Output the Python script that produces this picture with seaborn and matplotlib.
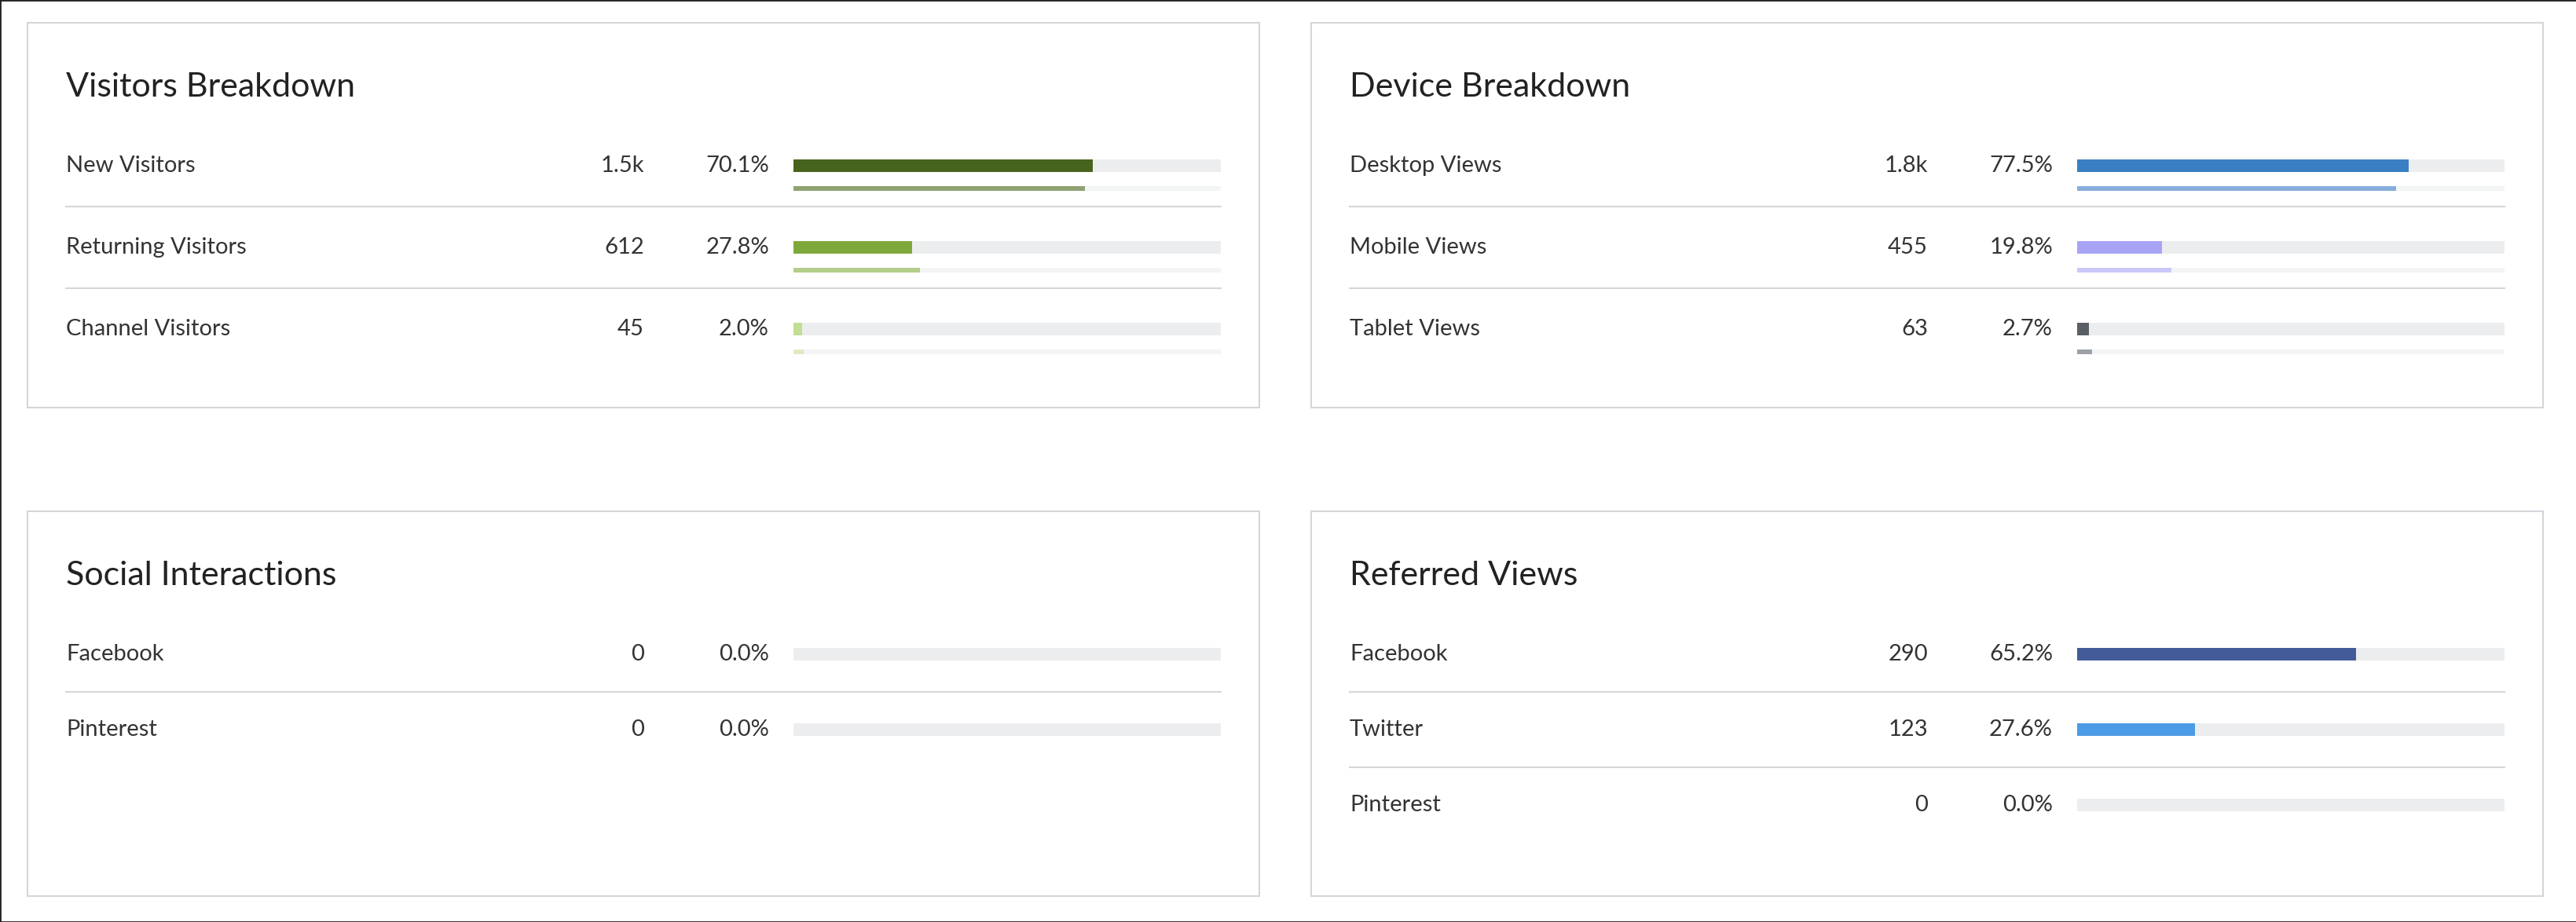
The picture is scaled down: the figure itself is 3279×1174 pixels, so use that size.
import matplotlib
matplotlib.use("Agg")
import matplotlib.pyplot as plt
from matplotlib.patches import Rectangle
import seaborn as sns
import pandas as pd

W, H = 3280, 1174
plt.rcParams["font.family"] = "Lato"

# ---- data ----
visitors_labels = ["New Visitors", "Returning Visitors", "Channel Visitors"]
visitors_values = ["1.5k", "612", "45"]
visitors_pct = [70.1, 27.8, 2.0]
visitors_prev_pct = [68.2, 29.6, 2.4]

device_labels = ["Desktop Views", "Mobile Views", "Tablet Views"]
device_values = ["1.8k", "455", "63"]
device_pct = [77.5, 19.8, 2.7]
device_prev_pct = [74.6, 22.1, 3.5]

social_labels = ["Facebook", "Pinterest"]
social_values = ["0", "0"]
social_pct = [0.0, 0.0]

referred_labels = ["Facebook", "Twitter", "Pinterest"]
referred_values = ["290", "123", "0"]
referred_pct = [65.2, 27.6, 0.0]

fig = plt.figure(figsize=(W / 100, H / 100), dpi=100)
fig.patch.set_facecolor("white")
fig.patches.append(Rectangle((0, 0), 1, 1, transform=fig.transFigure, fill=False,
                             edgecolor="#222222", lw=2))

def fx(x): return x / W
def fy(y): return 1 - y / H

def bar_axes(x0, x1, yc0, spacing, n, thick):
    ax = fig.add_axes([fx(x0), fy(yc0 - spacing / 2 + n * spacing), fx(x1 - x0), n * spacing / H])
    ax.set_xlim(0, 100)
    ax.set_ylim(n - 0.5, -0.5)
    ax.axis("off")
    return ax

def draw_bars(ax, labels, pct, colors, track, width):
    df = pd.DataFrame({"cat": labels, "pct": pct, "full": [100] * len(labels)})
    sns.barplot(data=df, y="cat", x="full", ax=ax, orient="h", color=track,
                width=width, saturation=1, linewidth=0)
    sns.barplot(data=df, y="cat", x="pct", ax=ax, orient="h", hue="cat",
                palette=colors, width=width, saturation=1, linewidth=0, legend=False)
    ax.set_xlim(0, 100)
    ax.set_ylim(len(labels) - 0.5, -0.5)
    ax.axis("off")

def panel(px0, py0, title, labels, values, pct, colors, prev=None, prev_colors=None,
          row0=0, spacing=104):
    px1, py1 = px0 + 1568, py0 + 490
    fig.patches.append(Rectangle((fx(px0), fy(py1)), fx(px1 - px0), (py1 - py0) / H,
                                 transform=fig.transFigure, fill=False,
                                 edgecolor="#D3D6DA", lw=1.5))
    lx = px0 + 49
    bx0, bx1 = px0 + 975, px0 + 1519
    fig.text(fx(lx), fy(py0 + 82), title, fontsize=31, color="#222222", va="center")
    n = len(labels)
    for i in range(n):
        y = py0 + row0 + i * spacing
        fig.text(fx(lx), fy(y), labels[i], fontsize=21, color="#333333", va="center")
        fig.text(fx(px0 + 785), fy(y), values[i], fontsize=21, color="#333333",
                 va="center", ha="right")
        fig.text(fx(px0 + 944), fy(y), f"{pct[i]:.1f}%", fontsize=21, color="#333333",
                 va="center", ha="right")
        if i < n - 1:
            ly = fy(y + spacing / 2)
            fig.add_artist(plt.Line2D([fx(lx), fx(bx1)], [ly, ly],
                                      transform=fig.transFigure, color="#D3D6DA", lw=1.5))
    ax = bar_axes(bx0, bx1, py0 + row0, spacing, n, 16)
    draw_bars(ax, labels, pct, colors, "#ECEDEF", 16 / spacing)
    if prev is not None:
        ax2 = bar_axes(bx0, bx1, py0 + row0 + 29, spacing, n, 6)
        draw_bars(ax2, labels, prev, prev_colors, "#F3F4F5", 6 / spacing)

panel(35, 29, "Visitors Breakdown", visitors_labels, visitors_values, visitors_pct,
      ["#48631E", "#7FA83B", "#C1DE92"], visitors_prev_pct,
      ["#8FA273", "#B3CE8B", "#DCEBC4"], row0=182, spacing=104)
panel(1669, 29, "Device Breakdown", device_labels, device_values, device_pct,
      ["#3A7FC4", "#A8A4F5", "#5A5F66"], device_prev_pct,
      ["#86AEDA", "#CAC8F8", "#9DA1A6"], row0=182, spacing=104)
panel(35, 651, "Social Interactions", social_labels, social_values, social_pct,
      ["#48631E", "#7FA83B"], row0=182, spacing=96)
panel(1669, 651, "Referred Views", referred_labels, referred_values, referred_pct,
      ["#445B99", "#4B9BE6", "#8A8F96"], row0=182, spacing=96)

fig.savefig("out.png", dpi=100, facecolor="white")
